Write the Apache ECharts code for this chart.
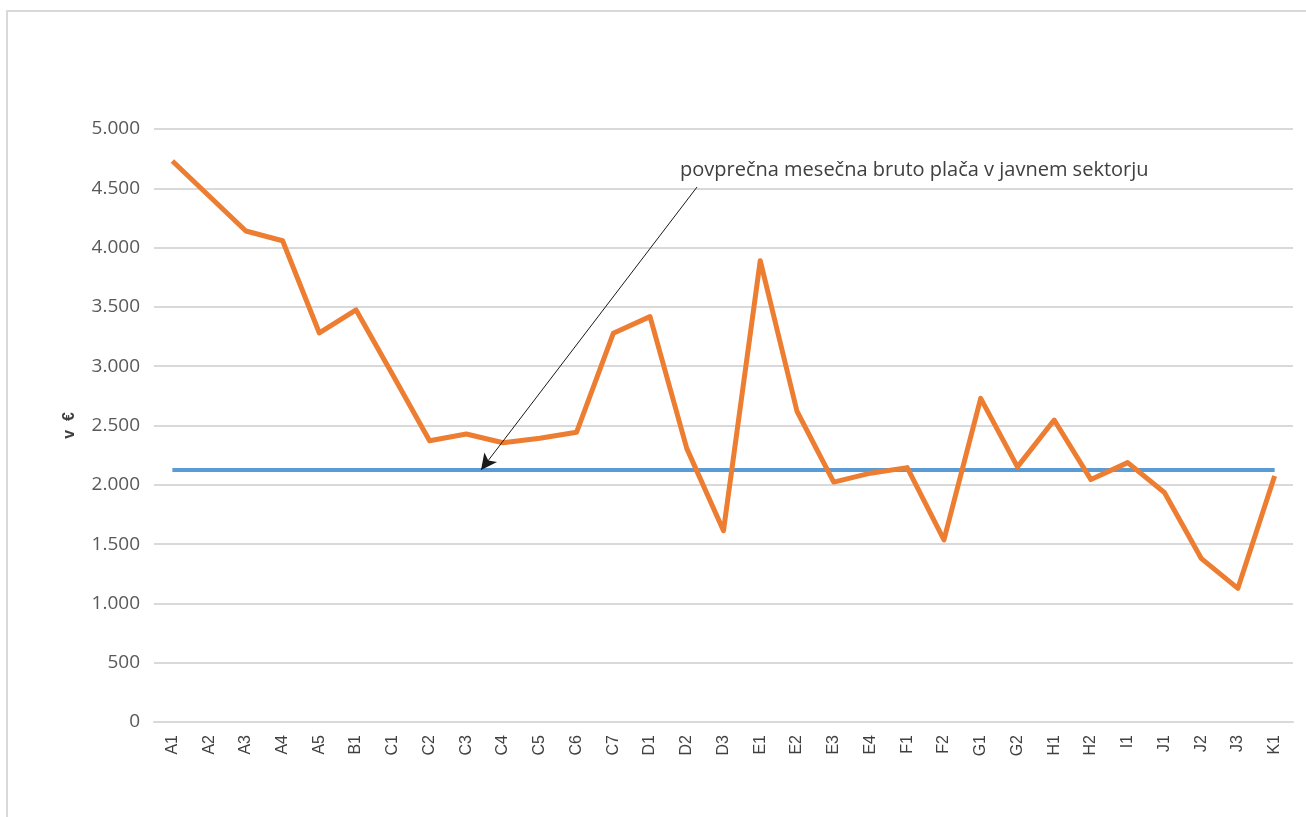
<!DOCTYPE html>
<html>
<head>
<meta charset="utf-8">
<script src="https://cdn.jsdelivr.net/npm/echarts@6/dist/echarts.min.js"></script>
<style>
  html, body { margin: 0; padding: 0; background: #fff; }
  #chart { width: 1306px; height: 817px; }
</style>
</head>
<body>
<div id="chart"></div>
<script>
// kategorije
const categories = ['A1','A2','A3','A4','A5','B1','C1','C2','C3','C4','C5','C6','C7','D1','D2','D3',
  'E1','E2','E3','E4','F1','F2','G1','G2','H1','H2','I1','J1','J2','J3','K1'];
// povprečna bruto plača po podskupinah
const salaries = [4730, 4435, 4140, 4058, 3280, 3474, 2925, 2372, 2428, 2355, 2392, 2443, 3277, 3418, 2307, 1613,
  3890, 2620, 2023, 2098, 2145, 1535, 2729, 2151, 2546, 2044, 2187, 1935, 1380, 1127, 2074];
// javni sektor - povprečje (od prve do zadnje kategorije)
const publicAvg = 2125;
const avgLine = [[0, publicAvg], [30, publicAvg]];
const yTicks = [0, 500, 1000, 1500, 2000, 2500, 3000, 3500, 4000, 4500, 5000];
const noteText = 'povprečna mesečna bruto plača v javnem sektorju';
// puščica: [položaj kategorije, vrednost]
const arrowFrom = [14.28, 4511];
const arrowTo = [8.4, publicAvg];

const chart = echarts.init(document.getElementById('chart'));

const fmt = v => String(v).replace(/\B(?=(\d{3})+(?!\d))/g, '.');

chart.setOption({
  animation: false,
  backgroundColor: '#fff',
  graphic: [{
    type: 'rect',
    shape: { x: 7, y: 11, width: 1400, height: 1000 },
    style: { fill: 'none', stroke: '#d9d9d9', lineWidth: 2 },
    silent: true
  }],
  grid: { left: 154, right: 13, top: 129, bottom: 95 },
  xAxis: [{
    type: 'category',
    data: categories,
    boundaryGap: true,
    axisLine: { lineStyle: { color: '#d9d9d9', width: 2 } },
    axisTick: { show: false },
    axisLabel: {
      rotate: 90,
      margin: 13,
      color: '#404040',
      fontFamily: 'Liberation Sans, Arial, sans-serif',
      fontSize: 16
    }
  }, {
    // skrita os za vmesne položaje (puščica, povprečje)
    type: 'value',
    show: false,
    min: -0.5,
    max: categories.length - 0.5
  }],
  yAxis: {
    type: 'value',
    min: yTicks[0],
    max: yTicks[yTicks.length - 1],
    interval: 500,
    name: 'v  €',
    nameLocation: 'middle',
    nameGap: 76,
    nameTextStyle: { color: '#404040', fontSize: 16, fontWeight: 'bold', fontFamily: 'Liberation Sans, Arial, sans-serif' },
    axisLine: { show: false },
    axisTick: { show: false },
    splitLine: { lineStyle: { color: '#d9d9d9', width: 2 } },
    axisLabel: {
      margin: 14,
      color: '#595959',
      fontFamily: 'Open Sans, sans-serif',
      fontSize: 19,
      formatter: fmt
    }
  },
  series: [
    {
      name: 'javni sektor',
      type: 'line',
      xAxisIndex: 1,
      data: avgLine,
      symbol: 'none',
      z: 2,
      lineStyle: { color: '#5B9BD5', width: 4 },
      markLine: {
        silent: true,
        symbol: ['none', 'arrow'],
        symbolSize: [12, 16],
        lineStyle: { color: '#1a1a1a', width: 1, type: 'solid' },
        label: { show: false },
        data: [[{ coord: arrowFrom }, { coord: arrowTo }]]
      },
      markPoint: {
        silent: true,
        symbol: 'circle',
        symbolSize: 0,
        data: [{ coord: arrowFrom }],
        label: {
          show: true,
          position: 'inside',
          align: 'left',
          verticalAlign: 'middle',
          offset: [-17, -17],
          formatter: noteText,
          color: '#404040',
          fontSize: 20,
          fontFamily: 'Open Sans, sans-serif'
        }
      }
    },
    {
      name: 'plača',
      type: 'line',
      data: salaries,
      symbol: 'none',
      z: 3,
      lineStyle: { color: '#ED7D31', width: 5, join: 'round' }
    }
  ]
});
</script>
</body>
</html>
